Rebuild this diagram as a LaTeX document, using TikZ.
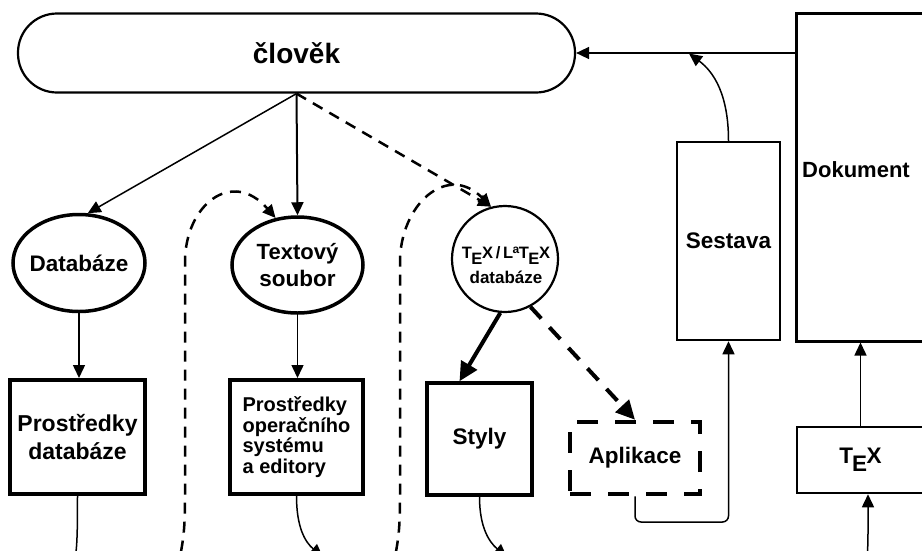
\documentclass[tikz,border=0pt]{standalone}
\usepackage{fontspec}
\setmainfont{Liberation Sans}
\usetikzlibrary{shapes.geometric,arrows.meta}
\newcommand{\sTeX}{T\kern-.04em\lower.7ex\hbox{E}\kern-.02em X}
\begin{document}
\begin{tikzpicture}[x=1pt,y=-1pt,
  every node/.style={font=\bfseries\fontsize{22.5}{27}\selectfont, align=center, inner sep=0pt},
  tri/.style={-{Triangle[length=13pt,width=12pt]}},
  bigtri/.style={-{Triangle[length=19pt,width=18pt]}},
  conn/.style={line width=1.5pt, tri},
  dconn/.style={line width=2.5pt, dash pattern=on 11pt off 8pt, tri},
  thickbox/.style={draw, line width=4pt},
  thinbox/.style={draw, line width=2.5pt},
]
\useasboundingbox (0,0) rectangle (922,550);
\clip (0,0) rectangle (922,550);

% nodes
\node[draw, line width=2.2pt, rounded corners=39pt, minimum width=557pt, minimum height=79pt,
      font=\bfseries\fontsize{28}{30}\selectfont] (clovek) at (296.5,53) {člověk};
\node[draw, ellipse, line width=3.5pt, minimum width=132pt, minimum height=97pt,
      label={center:{Databáze}}] (db) at (79,263) {};
\node[draw, ellipse, line width=3.5pt, minimum width=131pt, minimum height=96pt,
      label={center:{\fontsize{22}{27}\selectfont Textový\\soubor}}] (txt) at (297.5,265) {};
\node[draw, circle, line width=2.2pt, minimum size=106pt] (texdb) at (505,259) {};
\node[font=\bfseries\fontsize{16.5}{25}\selectfont] (texdbt) at (506,265)
  {\sTeX\,/\,L\kern-.04em\raise.55ex\hbox{\fontsize{12}{12}\selectfont a}\kern-.02em\sTeX\\{\fontsize{17}{20}\selectfont databáze}};
\node[thickbox, minimum width=135pt, minimum height=114pt,
      font=\bfseries\fontsize{23}{28}\selectfont] (pdb) at (77.5,437) {Prostředky\\databáze};
\node[thickbox, minimum width=133pt, minimum height=114pt, align=left,
      font=\bfseries\fontsize{20}{20.5}\selectfont] (pos) at (296.5,437) {Prostředky\\operačního\\systému\\a editory};
\node[draw, line width=3.5pt, minimum width=105pt, minimum height=112pt] (styly) at (479.5,439) {Styly};
\node[draw, line width=4.5pt, dash pattern=on 21pt off 17pt, minimum width=130pt, minimum height=72pt] (apl) at (635,458) {Aplikace};
\node[thinbox, minimum width=103pt, minimum height=198pt] (sestava) at (728.5,241) {Sestava};
\node[thinbox, minimum width=127pt, minimum height=66pt] (tex) at (860.5,460) {\sTeX};
\node[thinbox, minimum width=250pt, minimum height=328pt, anchor=north west] (dokbox) at (795,12) {};
\node[font=\bfseries\fontsize{22}{27}\selectfont] (dok) at (856,170) {Dokument};

% free ends
\coordinate (m) at (689,53.5);
\coordinate (ay) at (0,522);
\coordinate (posout) at (323,557);
\coordinate (stout) at (507,557);
\coordinate (pdbout) at (73,570);
\coordinate (texin) at (866,570);
\coordinate (texinb) at ([xshift=7.5pt]tex.south);
\coordinate (dl) at (177,570);
\coordinate (dr) at (392,570);

% connectors
\draw[conn] (dokbox.west |- clovek.east) -- (clovek.east);
\draw[conn] (sestava.north) .. controls (728.5,95) and (714,72) .. (m);
\draw[conn] (clovek.south) -- (db.80);
\draw[conn, line width=2pt] (clovek.south) -- (txt.north);
\draw[dconn] (clovek.south) -- (texdb.105);
\draw[conn] (db.south) -- (db.south |- pdb.north);
\draw[conn] (txt.south) -- (txt.south |- pos.north);
\draw[line width=4pt, bigtri] (texdb.-95) -- ([xshift=-20pt]styly.north);
\draw[line width=4pt, dash pattern=on 16pt off 12pt, bigtri] (texdb.-62) -- (apl.north);
\draw[conn, rounded corners=6pt] (apl.south) -- (apl.south |- ay) -- (sestava.south |- ay) -- (sestava.south);
\draw[conn] (pos.south) .. controls (296.5,527) and (305,542) .. (posout);
\draw[conn] (styly.south) .. controls (479.5,527) and (489,542) .. (stout);
\draw[line width=1.5pt] (pdb.south) .. controls (77.5,540) and (77,552) .. (pdbout);
\draw[conn] (tex.north) -- (tex.north |- dokbox.south);
\draw[conn] (texin) .. controls (868,550) and (868,540) .. (868,530) -- (texinb);
\draw[dconn] (dl) .. controls (183,545) and (185,530) .. (185,500) -- (185,262) .. controls (185,205) and (232,168) .. (txt.115);
\draw[dconn] (dr) .. controls (398,545) and (400,530) .. (400,500) -- (400,262) .. controls (400,205) and (447,162) .. (texdb.105);
\end{tikzpicture}
\end{document}
